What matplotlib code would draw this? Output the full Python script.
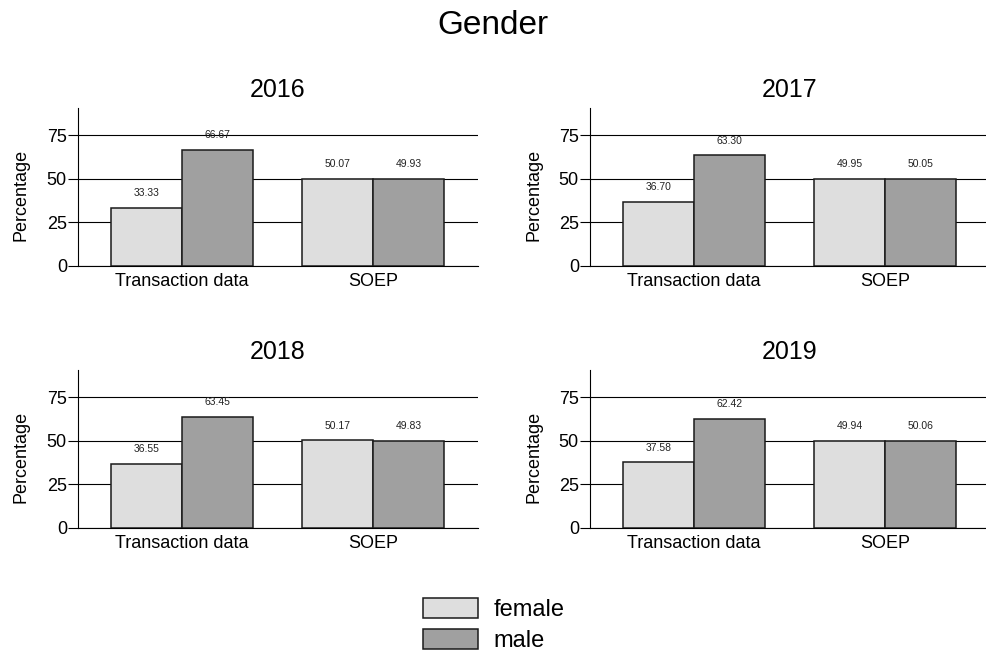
import matplotlib
matplotlib.use("Agg")
import matplotlib.pyplot as plt
from matplotlib.patches import Patch
import numpy as np

years = ["2016", "2017", "2018", "2019"]
groups = ["Transaction data", "SOEP"]
female_td = [33.33, 36.70, 36.55, 37.58]
female_soep = [50.07, 49.95, 50.17, 49.94]
male_td = [66.67, 63.30, 63.45, 62.42]
male_soep = [49.93, 50.05, 49.83, 50.06]

plt.rcParams["font.family"] = ["Liberation Sans", "DejaVu Sans"]

female_col = "#dedede"
male_col = "#a0a0a0"
edge_col = "#1a1a1a"

W, H = 986, 656
fig = plt.figure(figsize=(W / 100, H / 100), dpi=100)

# axes boxes in pixels: left, top, width, height
boxes = [(78, 108, 400, 158), (590, 108, 400, 158),
         (78, 370, 400, 158), (590, 370, 400, 158)]

x = np.arange(len(groups))
bw = 0.3717

for i, yr in enumerate(years):
    l, t, w, h = boxes[i]
    ax = fig.add_axes([l / W, 1 - (t + h) / H, w / W, h / H])
    fvals = [female_td[i], female_soep[i]]
    mvals = [male_td[i], male_soep[i]]
    b1 = ax.bar(x - bw / 2, fvals, bw, color=female_col, edgecolor=edge_col,
                linewidth=1.1, zorder=3)
    b2 = ax.bar(x + bw / 2, mvals, bw, color=male_col, edgecolor=edge_col,
                linewidth=1.1, zorder=3)
    for bars in (b1, b2):
        for rect in bars:
            v = rect.get_height()
            ax.annotate("%.2f" % v, (rect.get_x() + rect.get_width() / 2, v),
                        xytext=(0, 10.7), textcoords="offset points",
                        ha="center", va="center", fontsize=7.5, color="#222222")
    ax.set_xlim(-0.5445, 1.5497)
    ax.set_ylim(0, 90.5)
    ax.set_yticks([0, 25, 50, 75])
    ax.set_xticks(x)
    ax.set_xticklabels(groups)
    ax.yaxis.grid(True, color="black", linewidth=0.8, zorder=0)
    ax.set_axisbelow(True)
    ax.spines["top"].set_visible(False)
    ax.spines["right"].set_visible(False)
    ax.spines["left"].set_linewidth(0.8)
    ax.spines["bottom"].set_linewidth(0.8)
    ax.tick_params(axis="y", length=7, width=0.8, pad=1, labelsize=13)
    ax.tick_params(axis="x", length=0, pad=5, labelsize=13)
    ax.set_ylabel("Percentage", fontsize=13)
    ax.yaxis.set_label_coords(-0.12, 0.45)
    ax.set_title(yr, fontsize=18, pad=8)

fig.text(0.5, 1 - 25 / H, "Gender", ha="center", va="center", fontsize=24)

handles = [Patch(facecolor=female_col, edgecolor=edge_col, linewidth=1.1),
           Patch(facecolor=male_col, edgecolor=edge_col, linewidth=1.1)]
fig.legend(handles, ["female", "male"], loc="center",
           bbox_to_anchor=(494 / W, 1 - 625 / H), frameon=False, fontsize=17,
           handlelength=2.33, handleheight=0.93, handletextpad=0.64,
           labelspacing=0.35)

fig.savefig("out.png", dpi=100)
